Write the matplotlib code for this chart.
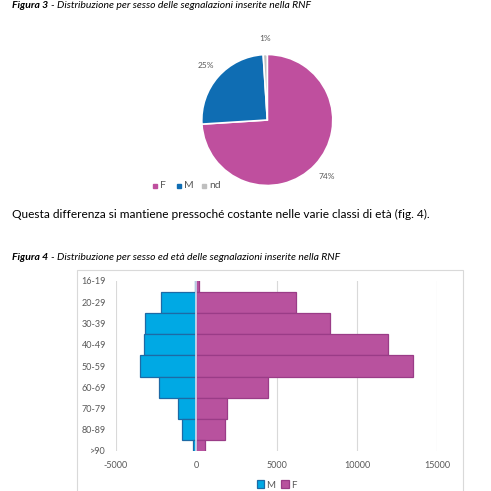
import numpy as np
import matplotlib.pyplot as plt

W = 491.0

# dati figura 3
sessi = ["F", "M", "nd"]
quote = [74, 25, 1]
colori_pie = ["#bf4f9e", "#0f6db3", "#bfbfbf"]

# dati figura 4
classi = ["16-19", "20-29", "30-39", "40-49", "50-59", "60-69", "70-79", "80-89", ">90"]
maschi = [-80, -2200, -3150, -3240, -3470, -2280, -1100, -870, -170]
femmine = [170, 6230, 8340, 11930, 13490, 4460, 1910, 1770, 540]
tick_x = [-5000, 0, 5000, 10000, 15000]

plt.rcParams["font.family"] = ["Lato", "DejaVu Sans"]

fig = plt.figure(figsize=(4.91, 4.91), dpi=100)
renderer = fig.canvas.get_renderer()


def px(x, y):
    return x / W, 1 - y / W


def box(l, t, r, b):
    return [l / W, 1 - b / W, (r - l) / W, (b - t) / W]


def didascalia(y, numero, resto, fine):
    # prima misura, poi scala la dimensione per finire a x = fine
    size = 8.0
    for _ in range(2):
        t1 = fig.text(*px(12, y), numero, fontsize=size, fontweight="bold", style="italic",
                      va="center", ha="left")
        bb = t1.get_window_extent(renderer)
        t2 = fig.text((bb.x1 + 3) / W, 1 - y / W, "- " + resto, fontsize=size, style="italic",
                      va="center", ha="left")
        bb2 = t2.get_window_extent(renderer)
        larghezza = bb2.x1 - 12
        if abs(bb2.x1 - fine) < 1:
            break
        t1.remove()
        t2.remove()
        size = size * (fine - 12) / larghezza


# testi
didascalia(6, "Figura 3", "Distribuzione per sesso delle segnalazioni inserite nella RNF", 312)
fig.text(*px(12, 214), "Questa differenza si mantiene pressoché costante nelle varie classi di età (fig. 4).",
         fontsize=8.6, va="center", ha="left")
didascalia(257, "Figura 4", "Distribuzione per sesso ed età delle segnalazioni inserite nella RNF", 340)

# figura 3 - torta
ax1 = fig.add_axes(box(201.8, 54.5, 332.8, 185.5))
ax1.pie(quote, colors=colori_pie, startangle=90, counterclock=False,
        autopct=lambda p: "%d%%" % round(p), pctdistance=1.25,
        wedgeprops=dict(edgecolor="white", linewidth=1.2),
        textprops=dict(fontsize=6, color="#595959"))
ax1.set_xlim(-1, 1)
ax1.set_ylim(-1, 1)

leg_y = 186
for mx, col, lab in [(155, colori_pie[0], "F"), (179, colori_pie[1], "M"), (204, colori_pie[2], "nd")]:
    fig.patches.append(plt.Rectangle(((mx - 2) / W, 1 - (leg_y + 2) / W), 4 / W, 4 / W,
                                     transform=fig.transFigure, color=col))
    fig.text(*px(mx + 5, leg_y), lab, fontsize=7.5, color="#595959", va="center", ha="left")

# riquadro figura 4
fig.patches.append(plt.Rectangle((76.7 / W, -0.01), (463 - 76.7) / W, 1 - 270 / W + 0.01,
                                 transform=fig.transFigure, fill=False,
                                 edgecolor="#d9d9d9", linewidth=0.8))

# figura 4 - piramide
ax2 = fig.add_axes(box(115.7, 281, 437.3, 451))
y = np.arange(len(classi))
ax2.barh(y, maschi, height=1.0, color="#00a9e4", edgecolor="#1d6aa5", linewidth=0.9, label="M")
ax2.barh(y, femmine, height=1.0, color="#b8529e", edgecolor="#9a3c87", linewidth=0.9, label="F")
ax2.set_ylim(len(classi) - 1, 0)
ax2.set_xlim(-5000, 15000)
ax2.set_xticks(tick_x)
ax2.set_xticklabels([str(t) for t in tick_x])
ax2.set_yticks(y)
ax2.set_yticklabels(classi)
ax2.grid(axis="x", color="#d9d9d9", linewidth=0.8)
ax2.set_axisbelow(True)
ax2.axvline(0, color="#d2def0", linewidth=1.2)
for s in ax2.spines.values():
    s.set_visible(False)
ax2.tick_params(axis="both", length=0, labelsize=6.5, labelcolor="#595959")
ax2.tick_params(axis="y", pad=7)
ax2.tick_params(axis="x", pad=7)

ax2.legend(loc="center", bbox_to_anchor=(0.5, -0.2), ncol=2, frameon=False,
           fontsize=7, handlelength=0.8, handleheight=0.8, handletextpad=0.2,
           columnspacing=0.6, labelcolor="#595959")

fig.savefig("out.png", dpi=100)
